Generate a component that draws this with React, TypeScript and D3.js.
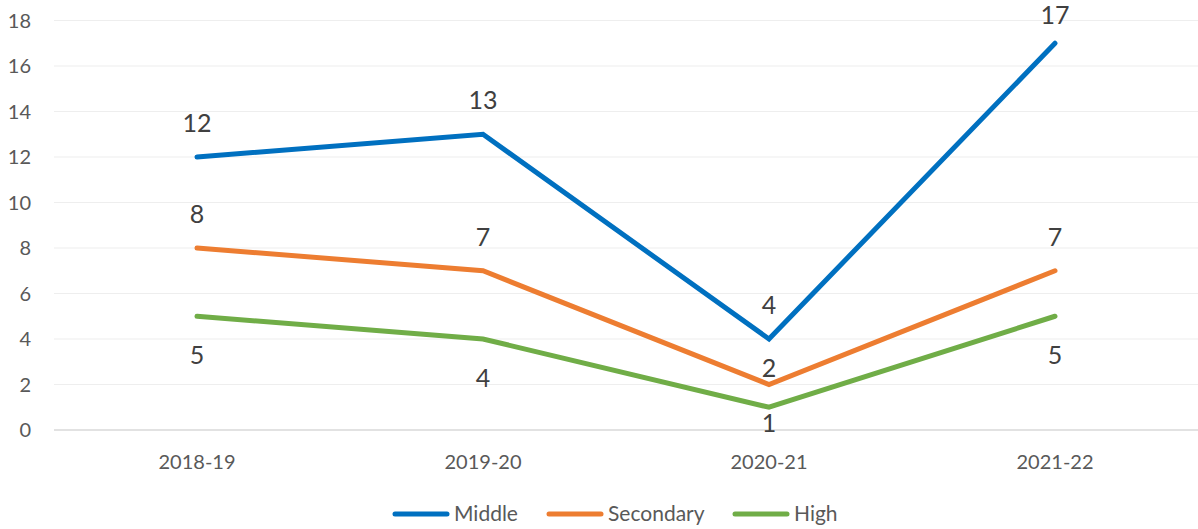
import React, { useEffect, useRef } from 'react';
import * as d3 from 'd3';

// chart data
const categories = ['2018-19', '2019-20', '2020-21', '2021-22'];
const middle = [12, 13, 4, 17];
const secondary = [8, 7, 2, 7];
const high = [5, 4, 1, 5];
const yTicks = [0, 2, 4, 6, 8, 10, 12, 14, 16, 18];

// label offsets (px from point), mimicking the hand-placed labels
const series = [
  { name: 'Middle', values: middle, color: '#0070C0', offsets: [-34, -34, -34, -34] },
  { name: 'Secondary', values: secondary, color: '#ED7D31', offsets: [-34, -34, -17, -34] },
  { name: 'High', values: high, color: '#70AD47', offsets: [39, 39, 16, 39] },
];

const App = () => {
  const svgRef = useRef<SVGSVGElement | null>(null);

  useEffect(() => {
    if (!svgRef.current) return;
    const width = 1198;
    const height = 529;
    const svg = d3.select(svgRef.current);
    svg.attr('width', width).attr('height', height);
    svg.selectAll('*').remove();

    const font = 'Lato, "Open Sans", sans-serif';
    const left = 54;
    const right = 1198;
    const top = 20.5;
    const bottom = 430;

    const x = d3.scaleBand<string>().domain(categories).range([left, right]);
    const y = d3.scaleLinear().domain([0, 18]).range([bottom, top]);

    // gridlines + y ticks
    yTicks.forEach(t => {
      svg.append('line')
        .attr('x1', left)
        .attr('x2', right)
        .attr('y1', y(t))
        .attr('y2', y(t))
        .attr('stroke', t === 0 ? '#d9d9d9' : '#eeeeee')
        .attr('stroke-width', t === 0 ? 1.5 : 1.2);

      svg.append('text')
        .attr('x', 31)
        .attr('y', y(t))
        .attr('dy', '0.35em')
        .attr('text-anchor', 'end')
        .attr('fill', '#595959')
        .style('font-family', font)
        .style('font-size', '20px')
        .text(t);
    });

    // x labels
    categories.forEach(c => {
      svg.append('text')
        .attr('x', x(c)! + x.bandwidth() / 2)
        .attr('y', 469)
        .attr('text-anchor', 'middle')
        .attr('fill', '#595959')
        .style('font-family', font)
        .style('font-size', '20px')
        .text(c);
    });

    const line = d3.line<number>()
      .x((d, i) => x(categories[i])! + x.bandwidth() / 2)
      .y(d => y(d));

    series.forEach(s => {
      svg.append('path')
        .datum(s.values)
        .attr('d', line)
        .attr('fill', 'none')
        .attr('stroke', s.color)
        .attr('stroke-width', 5)
        .attr('stroke-linejoin', 'miter')
        .attr('stroke-linecap', 'round');
    });

    series.forEach(s => {
      s.values.forEach((v, i) => {
        // keep labels inside the chart area
        const cy = Math.max(15, y(v) + s.offsets[i]);
        svg.append('text')
          .attr('x', x(categories[i])! + x.bandwidth() / 2)
          .attr('y', cy)
          .attr('dy', '0.36em')
          .attr('text-anchor', 'middle')
          .attr('fill', '#404040')
          .style('font-family', font)
          .style('font-size', '25px')
          .text(v);
      });
    });

    // legend
    const legendX = [393, 547, 733];
    series.forEach((s, i) => {
      svg.append('line')
        .attr('x1', legendX[i] + 2)
        .attr('x2', legendX[i] + 54)
        .attr('y1', 514)
        .attr('y2', 514)
        .attr('stroke', s.color)
        .attr('stroke-width', 5)
        .attr('stroke-linecap', 'round');
      svg.append('text')
        .attr('x', legendX[i] + 61)
        .attr('y', 514)
        .attr('dy', '0.35em')
        .attr('fill', '#595959')
        .style('font-family', font)
        .style('font-size', '21px')
        .text(s.name);
    });
  }, []);

  return (
    <svg ref={svgRef} style={{ position: 'absolute', left: 0, top: 0, background: '#fff' }}></svg>
  );
};

export default App;
